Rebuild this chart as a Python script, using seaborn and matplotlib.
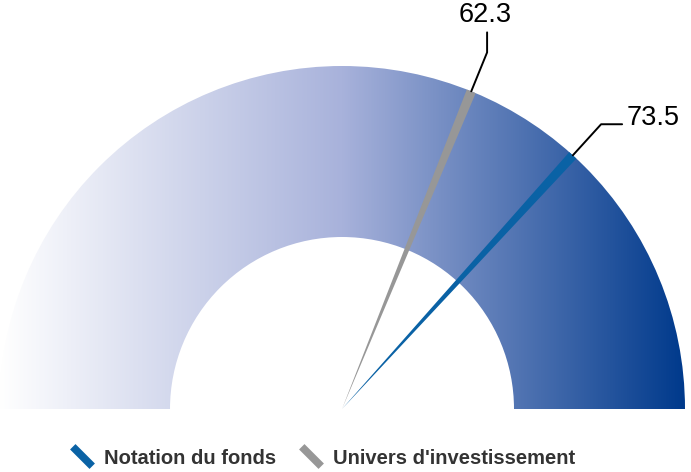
import numpy as np
import matplotlib
matplotlib.use("Agg")
import matplotlib.pyplot as plt
import seaborn as sns
from matplotlib.patches import Wedge, Polygon
from matplotlib.lines import Line2D
from matplotlib.path import Path

# data
series = ["Notation du fonds", "Univers d'investissement"]
values = [73.5, 62.3]
labels = ["73.5", "62.3"]
colors = ["#0a62a5", "#979797"]
label_dir = ["h", "v"]          # how the leader line leaves the elbow
gauge_min, gauge_max = 0, 100
band_colors = ["#ffffff", "#a8b2db", "#003a8c"]

sns.set_theme(style="white")
plt.rcParams["font.family"] = ["Liberation Sans", "DejaVu Sans"]

fig = plt.figure(figsize=(6.91, 4.72), dpi=100)
ax = fig.add_axes([0, 0, 1, 1])
ax.set_xlim(0, 691)
ax.set_ylim(0, 472)
ax.set_aspect("equal")
ax.axis("off")

cx, cy = 342, 63
r_out, r_in = 343, 172

# gradient band clipped to the half annulus
cmap = sns.blend_palette(band_colors, as_cmap=True)
grad = np.linspace(0, 1, 512).reshape(1, -1)
band = Wedge((cx, cy), r_out, 0, 180, width=r_out - r_in,
             facecolor="none", edgecolor="none")
ax.add_patch(band)
im = ax.imshow(grad, cmap=cmap, aspect="auto", interpolation="bicubic",
               extent=[cx - r_out, cx + r_out, cy, cy + r_out], zorder=1)
im.set_clip_path(band)


def angle_of(v):
    frac = (v - gauge_min) / (gauge_max - gauge_min)
    return np.pi * (1 - frac)


half_w = np.deg2rad(0.8)
for name, v, lab, col, d in zip(series, values, labels, colors, label_dir):
    a = angle_of(v)
    tip = (cx, cy)
    p1 = (cx + r_out * np.cos(a - half_w), cy + r_out * np.sin(a - half_w))
    p2 = (cx + r_out * np.cos(a + half_w), cy + r_out * np.sin(a + half_w))
    ax.add_patch(Polygon([tip, p1, p2], closed=True, facecolor=col,
                         edgecolor="none", zorder=3))

    # leader line and value label
    x0, y0 = cx + r_out * np.cos(a), cy + r_out * np.sin(a)
    x1, y1 = cx + 385 * np.cos(a), cy + 385 * np.sin(a)
    if d == "v":
        x2, y2 = x1, y1 + 20
        ax.plot([x0, x1, x2], [y0, y1, y2], color="black", lw=1.4, zorder=4)
        ax.text(x2 - 2, y2 + 4, lab, ha="center", va="bottom",
                fontsize=19.5, color="black")
    else:
        x2, y2 = x1 + 21, y1
        ax.plot([x0, x1, x2], [y0, y1, y2], color="black", lw=1.4, zorder=4)
        ax.text(x2 + 5, y2 - 1, lab, ha="left", va="baseline",
                fontsize=19.5, color="black")

slash = Path([[-1, 1], [1, -1]], [Path.MOVETO, Path.LINETO])
handles = [Line2D([], [], linestyle="none", marker=slash, markersize=14,
                  markeredgewidth=5.5, markeredgecolor=c) for c in colors]
leg = fig.legend(handles, series, loc="center", ncol=2, frameon=False,
                 bbox_to_anchor=(322 / 691, 14 / 472),
                 handlelength=1.3, handletextpad=0.45, columnspacing=1.1,
                 prop={"weight": "bold", "size": 14.5})
for t in leg.get_texts():
    t.set_color("#333333")

fig.savefig("out.png", dpi=100)
plt.close(fig)
